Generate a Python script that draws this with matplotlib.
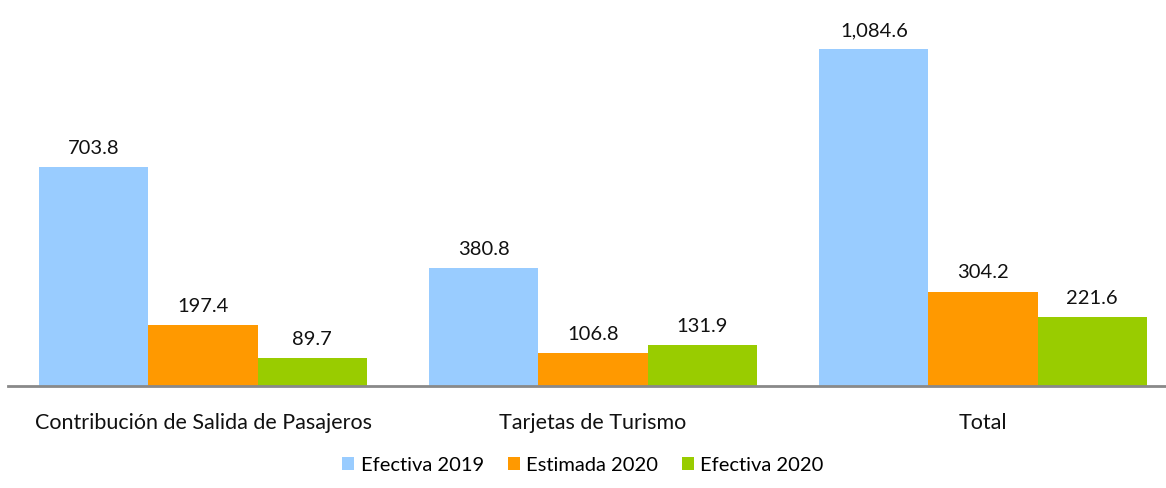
import matplotlib.pyplot as plt
import numpy as np

plt.rcParams['font.family'] = ['Lato', 'DejaVu Sans']

categorias = ['Contribución de Salida de Pasajeros', 'Tarjetas de Turismo', 'Total']
series = ['Efectiva 2019', 'Estimada 2020', 'Efectiva 2020']
efectiva_2019 = [703.8, 380.8, 1084.6]
estimada_2020 = [197.4, 106.8, 304.2]
efectiva_2020 = [89.7, 131.9, 221.6]
colores = ['#99CCFF', '#FF9900', '#99CC00']

fig = plt.figure(figsize=(11.66, 4.89), dpi=100)
ax = fig.add_axes([8 / 1166, 1 - 387 / 489, 1 - 8 / 1166, 387 / 489])

x = np.arange(len(categorias))
w = 0.28
valores = [efectiva_2019, estimada_2020, efectiva_2020]
for i, (nombre, vals) in enumerate(zip(series, valores)):
    pos = x + (i - 1) * w
    ax.bar(pos, vals, w, color=colores[i], label=nombre, zorder=2)
    for px, v in zip(pos, vals):
        ax.annotate(f'{v:,.1f}', (px, v), xytext=(0, 8), textcoords='offset points',
                    ha='center', va='bottom', fontsize=14.5, color='#111111')

ax.set_xlim(-0.5, 2.469)
ax.set_ylim(0, 1246)
for s in ['top', 'right', 'left']:
    ax.spines[s].set_visible(False)
ax.spines['bottom'].set_color('#898989')
ax.spines['bottom'].set_linewidth(2)
ax.set_yticks([])
ax.set_xticks(x)
ax.set_xticklabels(categorias, fontsize=15.5, color='#111111')
ax.tick_params(axis='x', length=0, pad=19)

fig.legend(loc='center', bbox_to_anchor=(0.5, 1 - 466 / 489), ncol=3, frameon=False,
           fontsize=14.5, handlelength=0.6, handleheight=0.6, handletextpad=0.3,
           columnspacing=1.2)

fig.savefig('out.png', dpi=100)
